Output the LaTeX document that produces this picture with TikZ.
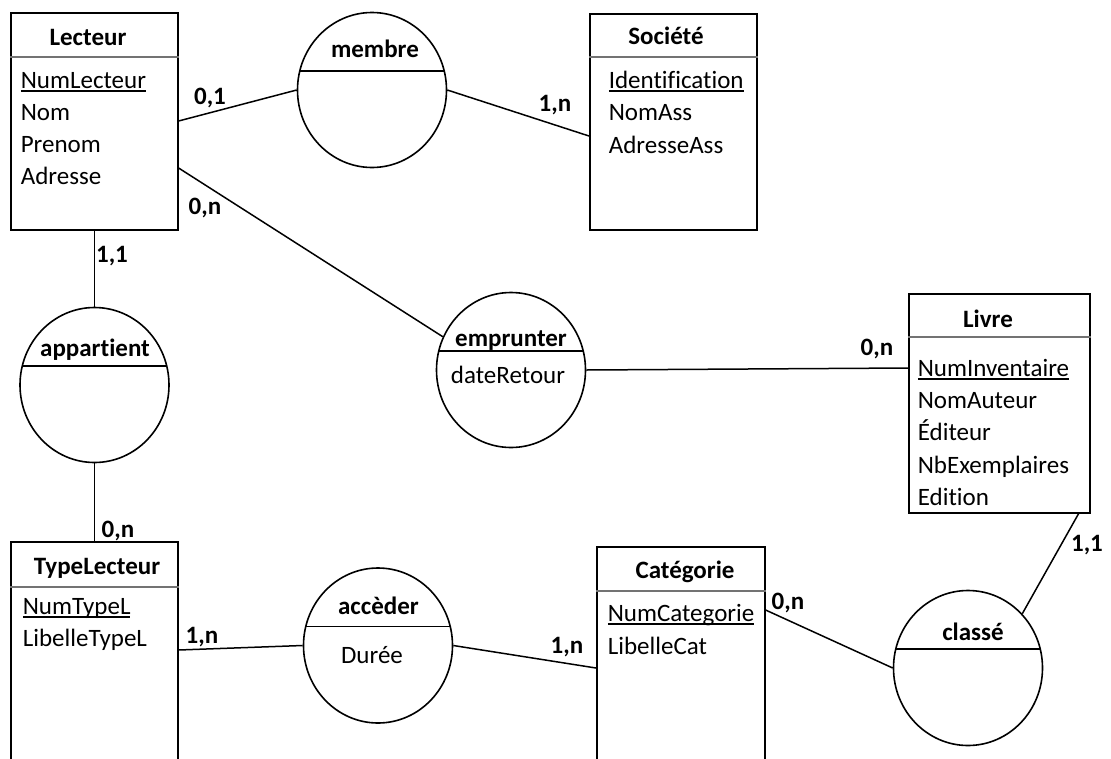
\documentclass[tikz,border=0pt]{standalone}
\usepackage{fontspec}
\setmainfont{Carlito}[Ligatures={NoCommon}]
\usetikzlibrary{shapes.geometric,calc}
\newcommand\fsz{\fontsize{25}{30}\selectfont}
\newcommand\ulk[1]{\setbox0\hbox{#1}\rlap{\rule[-3.5pt]{\wd0}{1.6pt}}\box0}
\begin{document}
\begin{tikzpicture}[x=1pt,y=-1pt,line width=1.6pt,
  ent/.style={draw, rectangle, anchor=north west, inner sep=0pt},
  rel/.style={draw, ellipse, minimum width=149pt, minimum height=155pt, inner sep=0pt},
  hdr/.style={draw=black!55, line width=1.3pt},
  txt/.style={anchor=base west, inner sep=0pt, font=\fsz},
  ttl/.style={anchor=base, inner sep=0pt, font=\fsz\bfseries},
  att/.style={anchor=base, inner sep=0pt, font=\fsz},
  card/.style={anchor=base, inner sep=0pt, font=\fsz\bfseries},
  lnk/.style={line width=1.5pt}]
\useasboundingbox (0,0) rectangle (1111,758);
\clip (0,0) rectangle (1111,758);

% ---- entities ----
\node[ent, minimum width=167pt, minimum height=217pt] (lecteur) at (10,12) {};
\node[ent, minimum width=167pt, minimum height=216pt] (societe) at (589,13) {};
\node[ent, minimum width=181pt, minimum height=219pt] (livre) at (908,293) {};
\node[ent, minimum width=167pt, minimum height=240pt] (typel) at (10,541) {};
\node[ent, minimum width=168pt, minimum height=240pt] (categ) at (596,546) {};

\draw[hdr] (lecteur.west |- 0,57) -- (lecteur.east |- 0,57);
\draw[hdr] (societe.west |- 0,57) -- (societe.east |- 0,57);
\draw[hdr] (livre.west |- 0,337) -- (livre.east |- 0,337);
\draw[hdr] (typel.west |- 0,587) -- (typel.east |- 0,587);
\draw[hdr] (categ.west |- 0,591) -- (categ.east |- 0,591);

\node[ttl] (tLecteur) at (88,45) {Lecteur};
\node[txt] (a1) at (20,88) {\ulk{NumLecteur}};
\node[txt] (a2) at (20,120) {Nom};
\node[txt] (a3) at (20,152) {Prenom};
\node[txt] (a4) at (20,184) {Adresse};

\node[ttl] (tSociete) at (666,44) {Société};
\node[txt] (b1) at (608,88) {\ulk{Identification}};
\node[txt] (b2) at (608,120) {NomAss};
\node[txt] (b3) at (608,153) {AdresseAss};

\node[ttl] (tLivre) at (988,327) {Livre};
\node[txt] (c1) at (917,376) {\ulk{NumInventaire}};
\node[txt] (c2) at (917,408) {NomAuteur};
\node[txt] (c3) at (917,440) {Éditeur};
\node[txt] (c4) at (917,473) {NbExemplaires};
\node[txt] (c5) at (917,505) {Edition};

\node[ttl] (tTypeL) at (97,574) {TypeLecteur};
\node[txt] (d1) at (22,614) {\ulk{NumTypeL}};
\node[txt] (d2) at (22,646) {LibelleTypeL};

\node[ttl] (tCateg) at (685,578) {Catégorie};
\node[txt] (e1) at (607,621) {\ulk{NumCategorie}};
\node[txt] (e2) at (607,654) {LibelleCat};

% ---- relations ----
\node[rel] (membre) at (372,90) {};
\node[rel] (emprunter) at (511,370) {};
\node[rel] (appartient) at (94.5,385) {};
\node[rel] (acceder) at (378,645.5) {};
\node[rel] (classe) at (968,668) {};

\foreach \r in {membre,emprunter,appartient,acceder,classe}
  \draw ($(\r.center)+(-72.2,-19)$) -- ($(\r.center)+(72.2,-19)$);

\node[ttl] (tMembre) at (375,57) {membre};
\node[ttl] (tEmprunter) at (511,346) {emprunter};
\node[att] (f1) at (508,383) {dateRetour};
\node[ttl] (tAppartient) at (95,356) {appartient};
\node[ttl] (tAcceder) at (378.5,614) {accèder};
\node[att] (g1) at (372,663) {Durée};
\node[ttl] (tClasse) at (973,640) {classé};

% ---- connectors ----
\draw[lnk] ($(lecteur.north east)+(0,109)$) -- (membre.west);
\draw[lnk] (membre.east) -- ($(societe.north west)+(0,123)$);
\draw[lnk] ($(lecteur.north east)+(0,156)$) -- (emprunter.154);
\draw[lnk] (emprunter.east) -- ($(livre.north west)+(0,75)$);
\draw[lnk] (appartient.north |- lecteur.south) -- (appartient.north);
\draw[lnk] (appartient.south) -- (appartient.south |- typel.north);
\draw[lnk] ($(typel.north east)+(0,109)$) -- (acceder.west);
\draw[lnk] (acceder.east) -- ($(categ.north west)+(0,122)$);
\draw[lnk] ($(categ.north east)+(0,64)$) -- (classe.west);
\draw[lnk] ($(livre.south east)+(-12,0)$) -- (classe.45);

% ---- cardinalities ----
\node[card] (k1) at (210,104) {0,1};
\node[card] (k2) at (555,111) {1,n};
\node[card] (k3) at (205,214) {0,n};
\node[card] (k4) at (112,262) {1,1};
\node[card] (k5) at (118,537) {0,n};
\node[card] (k6) at (877,355) {0,n};
\node[card] (k7) at (202,643) {1,n};
\node[card] (k8) at (567,653) {1,n};
\node[card] (k9) at (788,609) {0,n};
\node[card] (k10) at (1087,551) {1,1};
\end{tikzpicture}
\end{document}
